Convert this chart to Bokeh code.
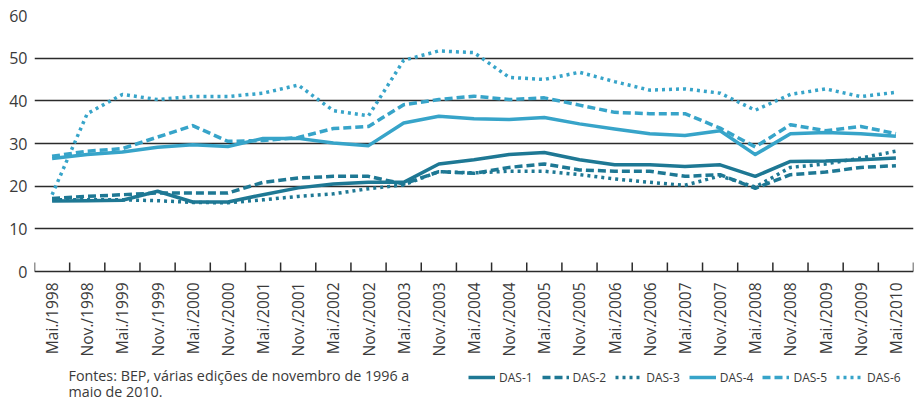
import math
from bokeh.plotting import figure
from bokeh.models import Range1d, FixedTicker, Legend, LegendItem, Label
from bokeh.core.properties import value
from bokeh.embed import file_html
from bokeh.resources import INLINE

categories = ["Mai./1998", "Nov./1998", "Mai./1999", "Nov./1999", "Mai./2000", "Nov./2000",
              "Mai./2001", "Nov./2001", "Mai./2002", "Nov./2002", "Mai./2003", "Nov./2003",
              "Mai./2004", "Nov./2004", "Mai./2005", "Nov./2005", "Mai./2006", "Nov./2006",
              "Mai./2007", "Nov./2007", "Mai./2008", "Nov./2008", "Mai./2009", "Nov./2009",
              "Mai./2010"]

das1 = [16.5, 16.6, 16.7, 18.8, 16.3, 16.3, 18.0, 19.6, 20.5, 20.9, 20.9, 25.2, 26.2,
        27.4, 27.9, 26.2, 25.0, 25.0, 24.6, 25.0, 22.3, 25.8, 25.9, 26.2, 26.6]
das2 = [17.1, 17.6, 18.0, 18.4, 18.4, 18.4, 20.9, 21.9, 22.3, 22.3, 20.5, 23.4, 23.0,
        24.4, 25.2, 23.8, 23.5, 23.5, 22.3, 22.7, 19.5, 22.7, 23.3, 24.4, 24.8]
das3 = [16.8, 16.8, 16.8, 16.6, 16.2, 16.1, 16.8, 17.6, 18.2, 19.4, 20.3, 23.4, 23.1,
        23.5, 23.5, 22.7, 21.7, 20.9, 20.2, 22.4, 19.8, 24.4, 25.2, 26.6, 28.2]
das4 = [26.5, 27.4, 28.0, 29.1, 29.7, 29.3, 31.2, 31.2, 30.1, 29.5, 34.8, 36.4, 35.8,
        35.6, 36.1, 34.6, 33.4, 32.3, 31.9, 33.0, 27.4, 32.3, 32.6, 32.3, 31.7]
das5 = [27.0, 28.2, 28.8, 31.5, 34.2, 30.5, 30.7, 31.4, 33.5, 34.0, 39.1, 40.3, 41.1,
        40.3, 40.7, 39.0, 37.3, 37.0, 37.0, 33.6, 29.2, 34.4, 33.0, 34.0, 32.3]
das6 = [18.0, 37.0, 41.5, 40.3, 41.0, 41.0, 41.8, 43.7, 37.7, 36.5, 49.5, 51.7, 51.3,
        45.5, 45.0, 46.7, 44.5, 42.5, 42.8, 41.8, 37.8, 41.5, 42.8, 41.0, 42.0]

series_names = ["DAS-1", "DAS-2", "DAS-3", "DAS-4", "DAS-5", "DAS-6"]
y_ticks = [0, 10, 20, 30, 40, 50, 60]
source_lines = ["Fontes: BEP, várias edições de novembro de 1996 a", "maio de 2010."]

DARK = "#1e7894"
LIGHT = "#37a4c9"
AXIS = "#2b2b2b"
FONT = "Open Sans"
TXT = "#3a3a3a"

n = len(categories)
xs = list(range(n))
bounds = [i - 0.5 for i in range(n + 1)]

W, H = 918, 402
top_border, left_border, right_border = 15, 34, 5
px_per_unit = 256 / 60.0          # 0..60 spans 256 px
frame_h = H - top_border
y_min = 60 - frame_h / px_per_unit  # frame extends to the bottom of the canvas

p = figure(width=W, height=H, output_backend="svg", toolbar_location=None,
           x_range=Range1d(-0.5, n - 0.5), y_range=Range1d(y_min, 60),
           min_border_left=left_border, min_border_right=right_border,
           min_border_top=top_border, min_border_bottom=0, x_axis_location=None)
p.outline_line_color = None
p.background_fill_color = "white"
p.border_fill_color = "white"

# gridlines (0 line acts as the x axis line)
p.xgrid.visible = False
p.ygrid.ticker = FixedTicker(ticks=y_ticks)
p.ygrid.grid_line_color = AXIS
p.ygrid.grid_line_width = 1.6

# x axis ticks (pointing up from the base line) and rotated labels
p.ray(x=bounds, y=[0] * len(bounds), length=9, length_units="screen",
      angle=math.pi / 2, line_color=AXIS, line_width=1.5)
p.text(x=xs, y=[0] * n, text=categories, angle=math.pi / 2, y_offset=11,
       text_align="right", text_baseline="middle", text_font=value(FONT),
       text_font_size=value("15.5px"), text_color=TXT)

styles = [(DARK, "solid"), (DARK, "8 4"), (DARK, "3 4"),
          (LIGHT, "solid"), (LIGHT, "8 4"), (LIGHT, "3 4")]
renderers = []
for vals, (col, dash) in zip([das1, das2, das3, das4, das5, das6], styles):
    r = p.line(xs, vals, line_color=col, line_width=3.5, line_dash=dash, line_join="round")
    renderers.append(r)

# y axis
ya = p.yaxis[0]
ya.ticker = FixedTicker(ticks=y_ticks)
ya.axis_line_color = None
ya.major_tick_in = 0
ya.major_tick_out = 0
ya.minor_tick_in = 0
ya.minor_tick_out = 0
ya.major_label_text_font = FONT
ya.major_label_text_font_size = "16px"
ya.major_label_text_color = TXT
ya.major_label_standoff = 7

legend = Legend(items=[LegendItem(label=nm, renderers=[r]) for nm, r in zip(series_names, renderers)],
                orientation="horizontal", location=(434, 15))
legend.border_line_color = None
legend.background_fill_alpha = 0
legend.glyph_width = 27
legend.glyph_height = 20
legend.label_standoff = 4
legend.spacing = 9
legend.padding = 0
legend.margin = 0
legend.label_text_font = FONT
legend.label_text_font_size = "12px"
legend.label_text_color = TXT
p.add_layout(legend)

for i, line in enumerate(source_lines):
    p.add_layout(Label(x=34, y=27 - 16 * i, x_units="screen", y_units="screen", text=line,
                       text_font=FONT, text_font_size="14.3px", text_color=TXT,
                       text_baseline="middle"))

open("out.html", "w").write(file_html(p, INLINE))
